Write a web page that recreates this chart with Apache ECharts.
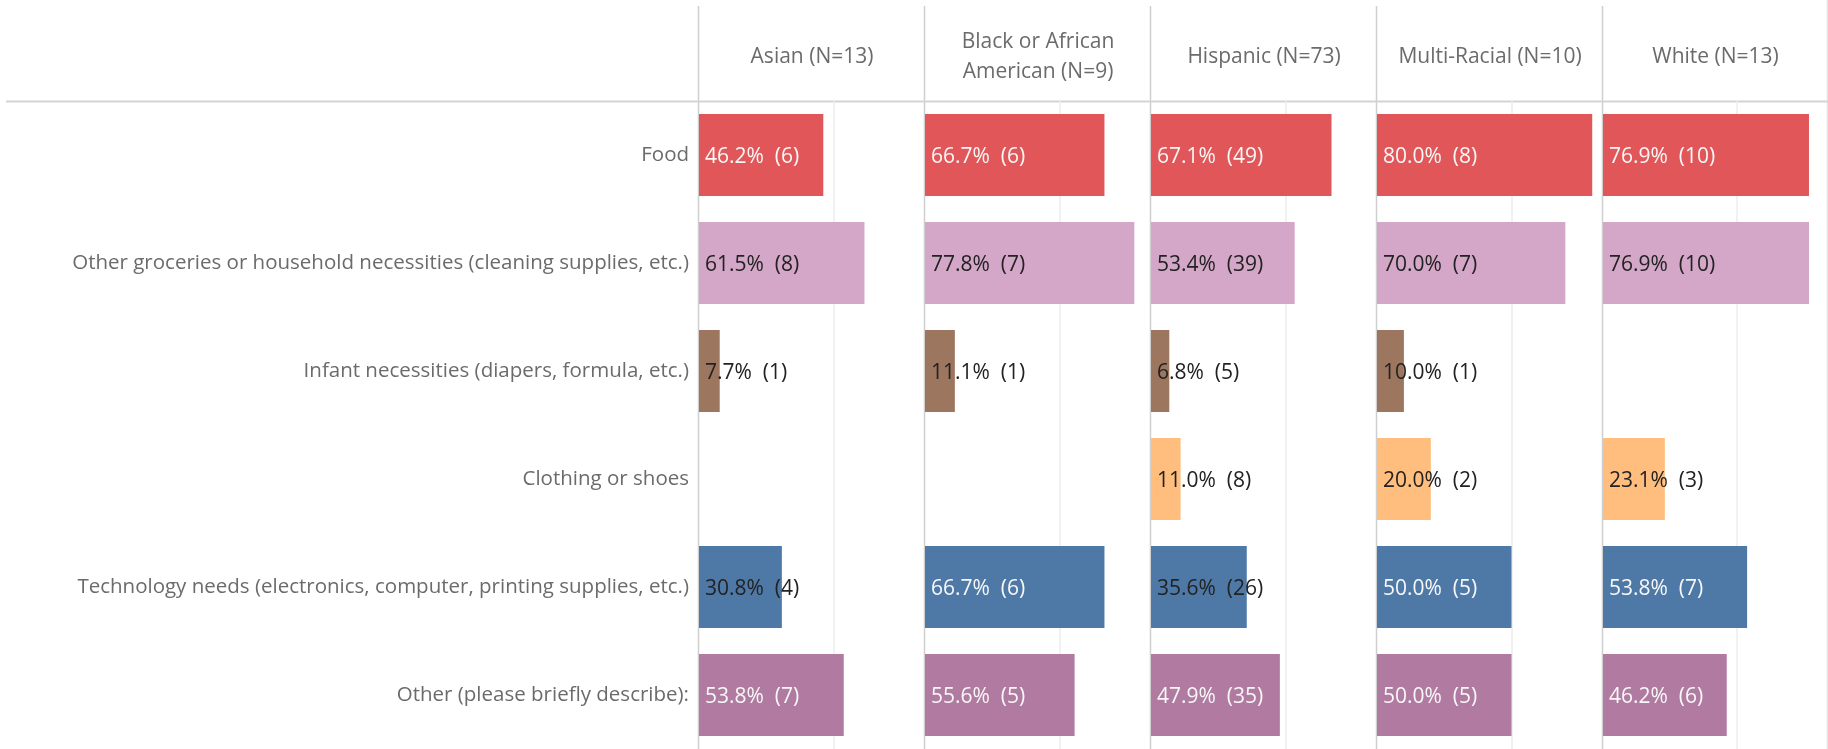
<!DOCTYPE html>
<html>
<head>
<meta charset="utf-8">
<script src="https://cdn.jsdelivr.net/npm/echarts@6/dist/echarts.min.js"></script>
<style>
  html, body { margin: 0; padding: 0; background: #fff; }
  #chart { width: 1828px; height: 749px; }
</style>
</head>
<body>
<div id="chart"></div>
<script>
// categories (rows) and groups (panels)
const categories = [
  'Food',
  'Other groceries or household necessities (cleaning supplies, etc.)',
  'Infant necessities (diapers, formula, etc.)',
  'Clothing or shoes',
  'Technology needs (electronics, computer, printing supplies, etc.)',
  'Other (please briefly describe):'
];
const groups = ['Asian (N=13)', 'Black or African\nAmerican (N=9)', 'Hispanic (N=73)', 'Multi-Racial (N=10)', 'White (N=13)'];

// percent of respondents, one array per group, in category order
const asianPct = [46.2, 61.5, 7.7, null, 30.8, 53.8];
const blackPct = [66.7, 77.8, 11.1, null, 66.7, 55.6];
const hispanicPct = [67.1, 53.4, 6.8, 11.0, 35.6, 47.9];
const multiPct = [80.0, 70.0, 10.0, 20.0, 50.0, 50.0];
const whitePct = [76.9, 76.9, null, 23.1, 53.8, 46.2];

// respondent counts
const asianN = [6, 8, 1, null, 4, 7];
const blackN = [6, 7, 1, null, 6, 5];
const hispanicN = [49, 39, 5, 8, 26, 35];
const multiN = [8, 7, 1, 2, 5, 5];
const whiteN = [10, 10, null, 3, 7, 6];

const pctByGroup = [asianPct, blackPct, hispanicPct, multiPct, whitePct];
const nByGroup = [asianN, blackN, hispanicN, multiN, whiteN];

// tableau colours per category
const catColors = ['#e15759', '#d4a6c8', '#9d7660', '#ffbe7d', '#4e79a7', '#b07aa1'];
const darkBar = [true, false, false, false, true, true];

const FONT = 'Open Sans';
const PANEL_LEFT = 699;
const PANEL_W = 226;
const TOP = 101;
const ROW_H = 108.4;

const chart = echarts.init(document.getElementById('chart'));

const grids = [], xAxes = [], yAxes = [], series = [];
groups.forEach((g, i) => {
  grids.push({ left: PANEL_LEFT + PANEL_W * i, top: TOP, width: PANEL_W, height: ROW_H * categories.length });
  xAxes.push({
    gridIndex: i,
    type: 'value',
    position: 'top',
    min: 0,
    max: 84,
    interval: 50,
    axisLine: { show: false },
    axisTick: { show: false },
    axisLabel: { show: false },
    splitLine: { show: true, showMinLine: false, showMaxLine: false, lineStyle: { color: '#ececec', width: 1.5 } },
    name: g,
    nameLocation: 'middle',
    nameGap: 44,
    nameTextStyle: { color: '#6b6b6b', fontFamily: FONT, fontSize: 21, lineHeight: 30, verticalAlign: 'middle', align: 'center' }
  });
  yAxes.push({
    gridIndex: i,
    type: 'category',
    inverse: true,
    data: categories,
    axisLine: { show: false },
    axisTick: { show: false },
    splitLine: { show: false },
    axisLabel: {
      show: i === 0,
      color: '#6b6b6b',
      fontFamily: FONT,
      fontSize: 20.5,
      padding: [4, 0, 0, 0],
      margin: 10
    }
  });
  series.push({
    type: 'bar',
    xAxisIndex: i,
    yAxisIndex: i,
    barWidth: 82,
    data: pctByGroup[i].map((v, k) => ({
      value: v,
      n: nByGroup[i][k],
      itemStyle: { color: catColors[k] },
      label: { color: darkBar[k] && v >= 40 ? '#f7f7f7' : '#222' }
    })),
    label: {
      show: true,
      position: 'insideLeft',
      distance: 6,
      offset: [0, 2],
      fontFamily: FONT,
      fontSize: 21,
      formatter: p => p.value == null ? '' : p.value.toFixed(1) + '%  (' + p.data.n + ')'
    },
    animation: false
  });
});

// panel dividers and header rule
const lines = [];
for (let i = 0; i < groups.length; i++) {
  const x = PANEL_LEFT - 0.5 + PANEL_W * i;
  lines.push({ type: 'line', shape: { x1: x, y1: 6, x2: x, y2: 749 }, style: { stroke: '#cfcfcf', lineWidth: 1.5 } });
}
lines.push({ type: 'line', shape: { x1: 1827.5, y1: 0, x2: 1827.5, y2: 749 }, style: { stroke: '#e2e2e2', lineWidth: 1.5 } });
lines.push({ type: 'line', shape: { x1: 6, y1: 101.5, x2: 1828, y2: 101.5 }, style: { stroke: '#d4d4d4', lineWidth: 2 } });

chart.setOption({
  animation: false,
  grid: grids,
  xAxis: xAxes,
  yAxis: yAxes,
  series: series,
  graphic: lines
});
</script>
</body>
</html>
